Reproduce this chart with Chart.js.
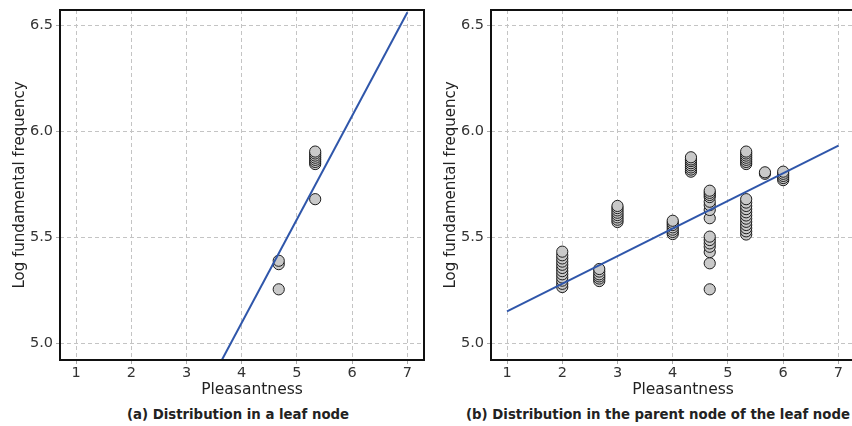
<!DOCTYPE html>
<html lang="en">
<head>
    <meta charset="UTF-8">
    <title>Pleasantness vs. log fundamental frequency</title>
    <style>
        html, body {
            margin: 0;
            padding: 0;
            width: 852px;
            height: 426px;
            overflow: hidden;
            background: #ffffff;
            font-family: 'DejaVu Sans', sans-serif;
            color: #222;
        }

        .panel {
            position: absolute;
            top: 0;
            width: 426px;
            height: 390px;
        }

        .axis-name {
            position: absolute;
            top: 379px;
            width: 200px;
            margin-left: -100px;
            text-align: center;
            font-size: 15.5px;
            line-height: 20px;
            color: #222;
        }

        .caption {
            position: absolute;
            top: 406px;
            width: 440px;
            margin-left: -220px;
            text-align: center;
            font-size: 13.3px;
            font-weight: bold;
            line-height: 18px;
            color: #222;
        }
    </style>
    <script src="https://cdn.jsdelivr.net/npm/chart.js"></script>
</head>
<body>
    <div class="panel" style="left:0px"><canvas id="leafChart" width="426" height="390"></canvas></div>
    <div class="panel" style="left:431px"><canvas id="parentChart" width="426" height="390"></canvas></div>

    <div class="axis-name" style="left:252px">Pleasantness</div>
    <div class="axis-name" style="left:683px">Pleasantness</div>

    <div class="caption" style="left:238px">(a) Distribution in a leaf node</div>
    <div class="caption" style="left:658px">(b) Distribution in the parent node of the leaf node</div>

    <script>
        // pleasantness levels and the log F0 values observed at each level
        const leafLevels = [4.67, 5.33];
        const leafLogF = [
            [5.254, 5.373, 5.389],
            [5.68, 5.846, 5.856, 5.866, 5.876, 5.886, 5.896, 5.905]
        ];
        // regression line end points (leaf node)
        const leafFitX = [3.64, 7];
        const leafFitY = [4.92, 6.563];

        const parentLevels = [2, 2.67, 3, 4, 4.33, 4.67, 5.33, 5.67, 6];
        const parentLogF = [
            [5.265, 5.28, 5.295, 5.31, 5.325, 5.34, 5.355, 5.37, 5.385, 5.40, 5.415, 5.432],
            [5.293, 5.305, 5.315, 5.325, 5.338, 5.35],
            [5.572, 5.583, 5.594, 5.605, 5.616, 5.627, 5.638, 5.648],
            [5.515, 5.525, 5.536, 5.547, 5.558, 5.568, 5.578],
            [5.81, 5.82, 5.83, 5.84, 5.85, 5.86, 5.868, 5.878],
            [5.254, 5.377, 5.43, 5.455, 5.471, 5.487, 5.503, 5.59, 5.629, 5.652, 5.668, 5.69, 5.70, 5.71, 5.72],
            [5.513, 5.528, 5.543, 5.558, 5.573, 5.588, 5.603, 5.618, 5.633, 5.648, 5.664, 5.68,
             5.846, 5.856, 5.866, 5.876, 5.886, 5.896, 5.905],
            [5.80, 5.807],
            [5.77, 5.78, 5.79, 5.80, 5.81]
        ];
        // regression line end points (parent node)
        const parentFitX = [1, 7];
        const parentFitY = [5.15, 5.933];

        const xTicks = [1, 2, 3, 4, 5, 6, 7];
        const yTicks = [5.0, 5.5, 6.0, 6.5];

        Chart.defaults.font.family = "'DejaVu Sans', sans-serif";
        Chart.defaults.color = '#333';

        function toPoints(levels, values) {
            const pts = [];
            levels.forEach((lv, i) => {
                values[i].slice().sort((a, b) => a - b).forEach(v => pts.push({ x: lv, y: v }));
            });
            return pts;
        }

        function toLine(xs, ys) {
            return xs.map((x, i) => ({ x: x, y: ys[i] }));
        }

        // black frame round the plot area
        const frame = {
            id: 'frame',
            afterDatasetsDraw(chart) {
                const a = chart.chartArea;
                const ctx = chart.ctx;
                ctx.save();
                ctx.lineWidth = 2;
                ctx.strokeStyle = '#111';
                ctx.strokeRect(a.left, a.top, a.right - a.left, a.bottom - a.top);
                ctx.restore();
            }
        };

        const gridStyle = {
            color: '#c4c4c4',
            lineWidth: 1,
            tickLength: 4,
            tickColor: '#aaaaaa',
            tickBorderDash: [4, 3]
        };

        // fixed axis sizes so the plot area lands in the same place on both panels
        function fixX(s) {
            s.height = 30;
            s.paddingLeft = 0;
            s.paddingRight = 0;
        }

        function fixY(s) {
            s.width = 60;
            s.paddingTop = 0;
            s.paddingBottom = 0;
        }

        function makeChart(id, levels, values, fitX, fitY) {
            const ctx = document.getElementById(id).getContext('2d');
            return new Chart(ctx, {
                type: 'scatter',
                data: {
                    datasets: [
                        {
                            type: 'line',
                            data: toLine(fitX, fitY),
                            borderColor: '#2f56aa',
                            borderWidth: 2,
                            pointRadius: 0,
                            fill: false,
                            clip: 0
                        },
                        {
                            data: toPoints(levels, values),
                            backgroundColor: '#c9c9c9',
                            borderColor: '#1c1c1c',
                            borderWidth: 1,
                            pointRadius: 5.6
                        }
                    ]
                },
                options: {
                    responsive: false,
                    animation: false,
                    layout: {
                        autoPadding: false,
                        padding: { top: 10, right: 2, left: 0, bottom: 0 }
                    },
                    plugins: {
                        legend: { display: false },
                        tooltip: { enabled: false }
                    },
                    scales: {
                        x: {
                            type: 'linear',
                            min: 0.71,
                            max: 7.3,
                            grid: gridStyle,
                            border: { display: false, dash: [4, 3] },
                            ticks: { padding: 1, color: '#333', font: { size: 14.5 } },
                            afterBuildTicks: s => { s.ticks = xTicks.map(v => ({ value: v })); },
                            afterFit: fixX
                        },
                        y: {
                            type: 'linear',
                            min: 4.92,
                            max: 6.574,
                            grid: gridStyle,
                            border: { display: false, dash: [4, 3] },
                            ticks: {
                                padding: 3,
                                color: '#333',
                                font: { size: 14.5 },
                                callback: v => v.toFixed(1)
                            },
                            afterBuildTicks: s => { s.ticks = yTicks.map(v => ({ value: v })); },
                            afterFit: fixY,
                            title: {
                                display: true,
                                text: 'Log fundamental frequency',
                                color: '#222',
                                font: { size: 15 },
                                padding: { top: 11, bottom: 0 }
                            }
                        }
                    }
                },
                plugins: [frame]
            });
        }

        makeChart('leafChart', leafLevels, leafLogF, leafFitX, leafFitY);
        makeChart('parentChart', parentLevels, parentLogF, parentFitX, parentFitY);
    </script>
</body>
</html>
